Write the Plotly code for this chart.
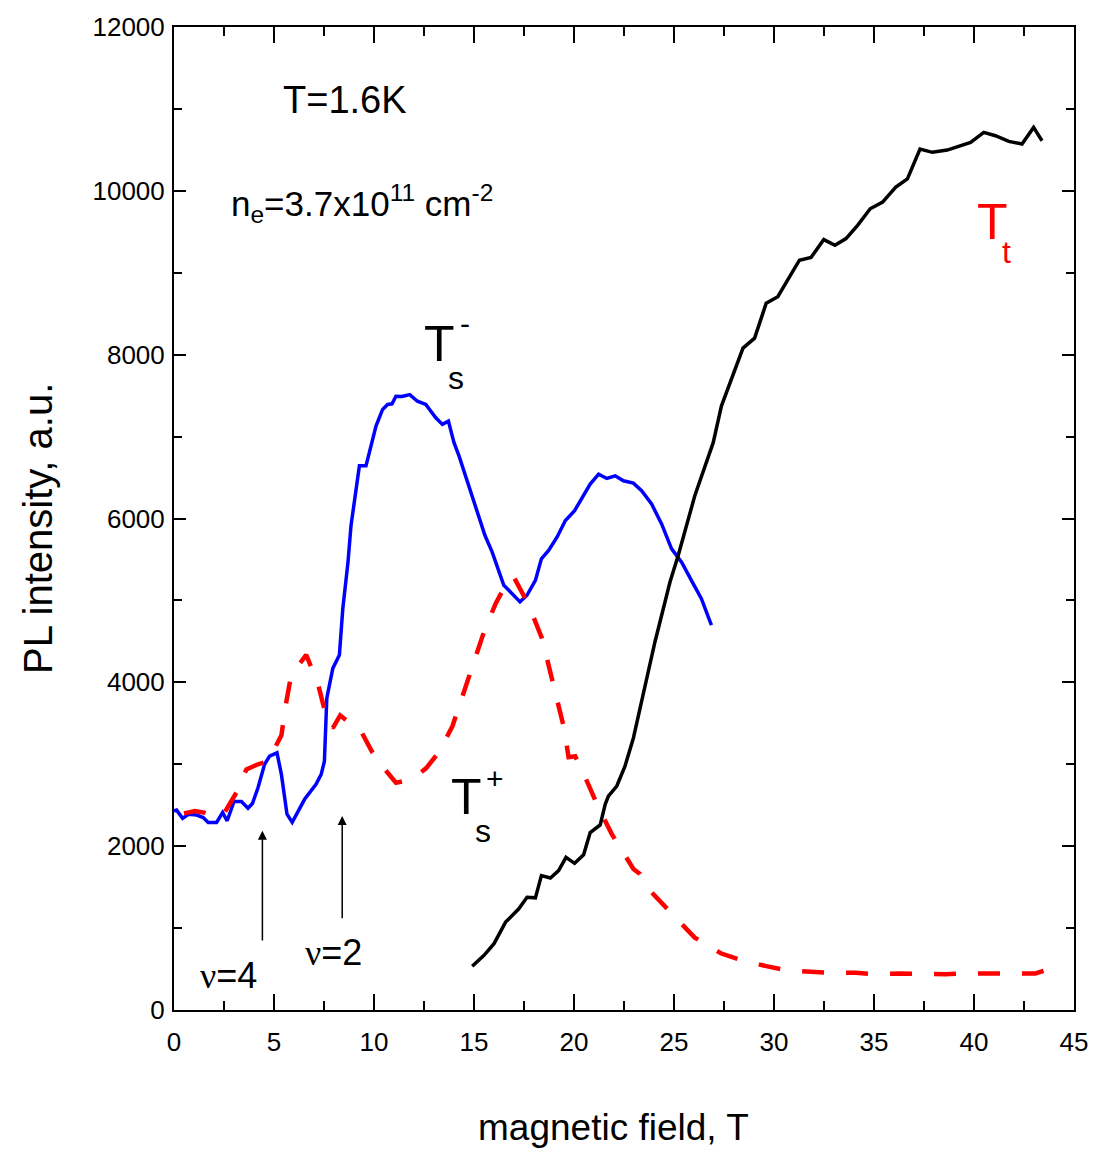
import plotly.graph_objects as go

# Magnetic field (T) and PL intensity (a.u.) for each spectral line
field_ts_minus = [0, 0.13, 0.43, 0.72, 1.13, 1.46, 1.71, 2.13, 2.43, 2.66, 3.0, 3.37, 3.7, 3.92,
                  4.2, 4.53, 4.78, 5.15, 5.37, 5.65, 5.91, 6.2, 6.53, 7.1, 7.36, 7.52, 7.64, 7.94,
                  8.27, 8.44, 8.7, 8.85, 9.27, 9.6, 10.1, 10.43, 10.68, 10.9, 11.1, 11.4, 11.79,
                  12.17, 12.59, 13.09, 13.42, 13.72, 14.0, 14.25, 14.58, 14.91, 15.25, 15.55,
                  15.91, 16.16, 16.49, 16.74, 16.99, 17.3, 17.65, 18.07, 18.37, 18.73, 19.15,
                  19.57, 20.03, 20.39, 20.81, 21.23, 21.64, 22.06, 22.47, 22.97, 23.38, 23.88,
                  24.38, 24.88, 25.38, 25.87, 26.37, 26.87]
pl_ts_minus = [2430, 2440, 2340, 2390, 2380, 2350, 2290, 2290, 2410, 2310, 2545, 2545, 2463, 2520,
               2713, 3000, 3100, 3140, 2876, 2390, 2290, 2430, 2572, 2755, 2876, 3037, 3807, 4170,
               4334, 4900, 5468, 5913, 6643, 6643, 7129, 7331, 7392, 7400, 7493, 7490, 7513,
               7432, 7392, 7230, 7149, 7189, 6926, 6764, 6521, 6278, 6035, 5792,
               5589, 5427, 5184, 5123, 5063, 4982, 5063, 5245, 5508, 5610, 5772,
               5975, 6096, 6237, 6420, 6541, 6489, 6521, 6460, 6432, 6339, 6177,
               5934, 5630, 5468, 5245, 5022, 4699]

field_tt = [14.91, 15.5, 16.0, 16.58, 17.24, 17.65, 18.07, 18.37, 18.82, 19.23, 19.6, 20.03,
            20.48, 20.81, 21.31, 21.56, 21.72, 22.14, 22.55, 22.97, 23.38, 24.05, 24.8, 25.21,
            26.04, 26.96, 27.37, 28.45, 29.03, 29.61, 30.19, 31.27, 31.85, 32.49, 33.05, 33.6,
            34.18, 34.81, 35.43, 36.09, 36.67, 37.3, 37.92, 38.66, 39.83, 40.49, 41.07, 41.74,
            42.4, 42.98, 43.4]
pl_tt = [535, 668, 810, 1073, 1236, 1377, 1369, 1640, 1612, 1701, 1863, 1790,
         1895, 2166, 2260, 2511, 2612, 2734, 2977, 3321, 3767, 4496, 5225, 5549,
         6278, 6926, 7372, 8080, 8202, 8627, 8708, 9153, 9186, 9405, 9336, 9417,
         9579, 9781, 9862, 10045, 10146, 10510, 10470, 10498, 10592, 10713, 10673, 10604,
         10571, 10774, 10611]

field_ts_plus = [0.5, 1.05, 1.5, 1.96, 2.5, 3.12, 3.62, 4.2, 4.7, 5.37, 5.62, 5.86, 6.61, 7.19,
                 7.61, 7.94, 8.31, 8.8, 9.27, 9.93, 10.5, 11.1, 11.6, 12.0, 12.6, 13.22, 13.92,
                 14.5, 15.0, 15.5, 16.08, 16.5, 16.99, 17.74, 18.4, 19.2, 19.48, 19.73, 20.06,
                 20.48, 21.23, 21.89, 22.97, 23.3, 23.8, 25.13, 26.04, 27.37, 28.28, 29.61, 30.52,
                 31.85, 32.76, 34.09, 35.0, 36.33, 37.25, 38.58, 39.5, 40.82, 41.74, 43.07, 43.48,
                 43.98]
pl_ts_plus = [2400, 2430, 2410, 2357, 2400, 2653, 2937, 3000, 3037, 3354, 3767, 4091, 4334, 3990,
              3584, 3442, 3597, 3500, 3442, 3139, 2950, 2775, 2800, 2835, 2950, 3139, 3463,
              3888, 4212, 4617, 4961, 5150, 5285, 4942, 4536, 3767, 3463, 3086, 3098,
              2884, 2470, 2147, 1722, 1661, 1458, 1114, 883, 689, 616, 535, 490,
              466, 454, 454, 437, 446, 437, 437, 446, 454, 446, 446, 478,
              446]

x_ticks = [0, 5, 10, 15, 20, 25, 30, 35, 40, 45]
y_ticks = [0, 2000, 4000, 6000, 8000, 10000, 12000]

FONT = "Liberation Sans, Arial, sans-serif"

fig = go.Figure()
fig.add_trace(go.Scatter(x=field_ts_minus, y=pl_ts_minus, mode="lines",
                         line=dict(color="#0000ff", width=3.5), name="Ts-"))
fig.add_trace(go.Scatter(x=field_ts_plus, y=pl_ts_plus, mode="lines",
                         line=dict(color="#ff0000", width=4.5, dash="22px,22px"), name="Ts+"))
fig.add_trace(go.Scatter(x=field_tt, y=pl_tt, mode="lines",
                         line=dict(color="#000000", width=3.5), name="Tt"))

anns = []


def txt(x, y, s, size, color="black", xref="x", yref="y", **kw):
    anns.append(dict(x=x, y=y, xref=xref, yref=yref, text=s, showarrow=False,
                     xanchor="center", yanchor="middle",
                     font=dict(family=FONT, size=size, color=color), **kw))


txt(8.57, 11106, "T=1.6K", 38)
txt(9.4, 9842, "n<sub>e</sub>=3.7x10<sup>11</sup> cm<sup>-2</sup>", 35)

# T_s^-
txt(13.25, 8129, "T", 50)
txt(14.1, 7720, "s", 32)
txt(14.55, 8380, "-", 30)
# T_s^+
txt(14.6, 2600, "T", 50)
txt(15.45, 2190, "s", 32)
txt(16.05, 2830, "+", 30)
# T_t
txt(40.9, 9623, "T", 50, color="#ff0000")
txt(41.6, 9250, "t", 32, color="#ff0000")

# filling factors
txt(2.74, 425, "<span style='font-family:Liberation Serif'>ν</span>=4", 36)
txt(7.97, 705, "<span style='font-family:Liberation Serif'>ν</span>=2", 36)

for xa, y_tip, y_tail in [(4.42, 2187, 830), (8.41, 2369, 1102)]:
    anns.append(dict(x=xa, y=y_tip, ax=xa, ay=y_tail, xref="x", yref="y", axref="x", ayref="y",
                     text="", showarrow=True, arrowhead=2, arrowsize=1.2, arrowwidth=1.5,
                     arrowcolor="black"))

# axis titles
txt(-0.1504, 0.49, "PL intensity, a.u.", 40, xref="paper", yref="paper", textangle=-90)
txt(0.488, -0.1194, "magnetic field, T", 37, xref="paper", yref="paper")

axis_common = dict(showline=True, linecolor="black", linewidth=2, mirror="ticks",
                   ticks="inside", tickcolor="black", tickwidth=2, showgrid=False,
                   zeroline=False, tickformat="d",
                   tickfont=dict(family=FONT, size=26, color="black"))

fig.update_layout(
    width=1100, height=1153,
    margin=dict(l=174, r=22, t=22, b=143),
    paper_bgcolor="white", plot_bgcolor="white",
    showlegend=False,
    annotations=anns,
    xaxis=dict(range=[0, 45], tickvals=x_ticks, ticklen=16, ticklabelstandoff=8,
               minor=dict(dtick=2.5, tick0=0, ticklen=9, ticks="inside", tickcolor="black",
                          tickwidth=2),
               **axis_common),
    yaxis=dict(range=[0, 12000], tickvals=y_ticks, ticklen=12, ticklabelstandoff=2,
               minor=dict(dtick=1000, tick0=0, ticklen=8, ticks="inside", tickcolor="black",
                          tickwidth=2),
               **axis_common),
)

fig.write_html("out.html")
